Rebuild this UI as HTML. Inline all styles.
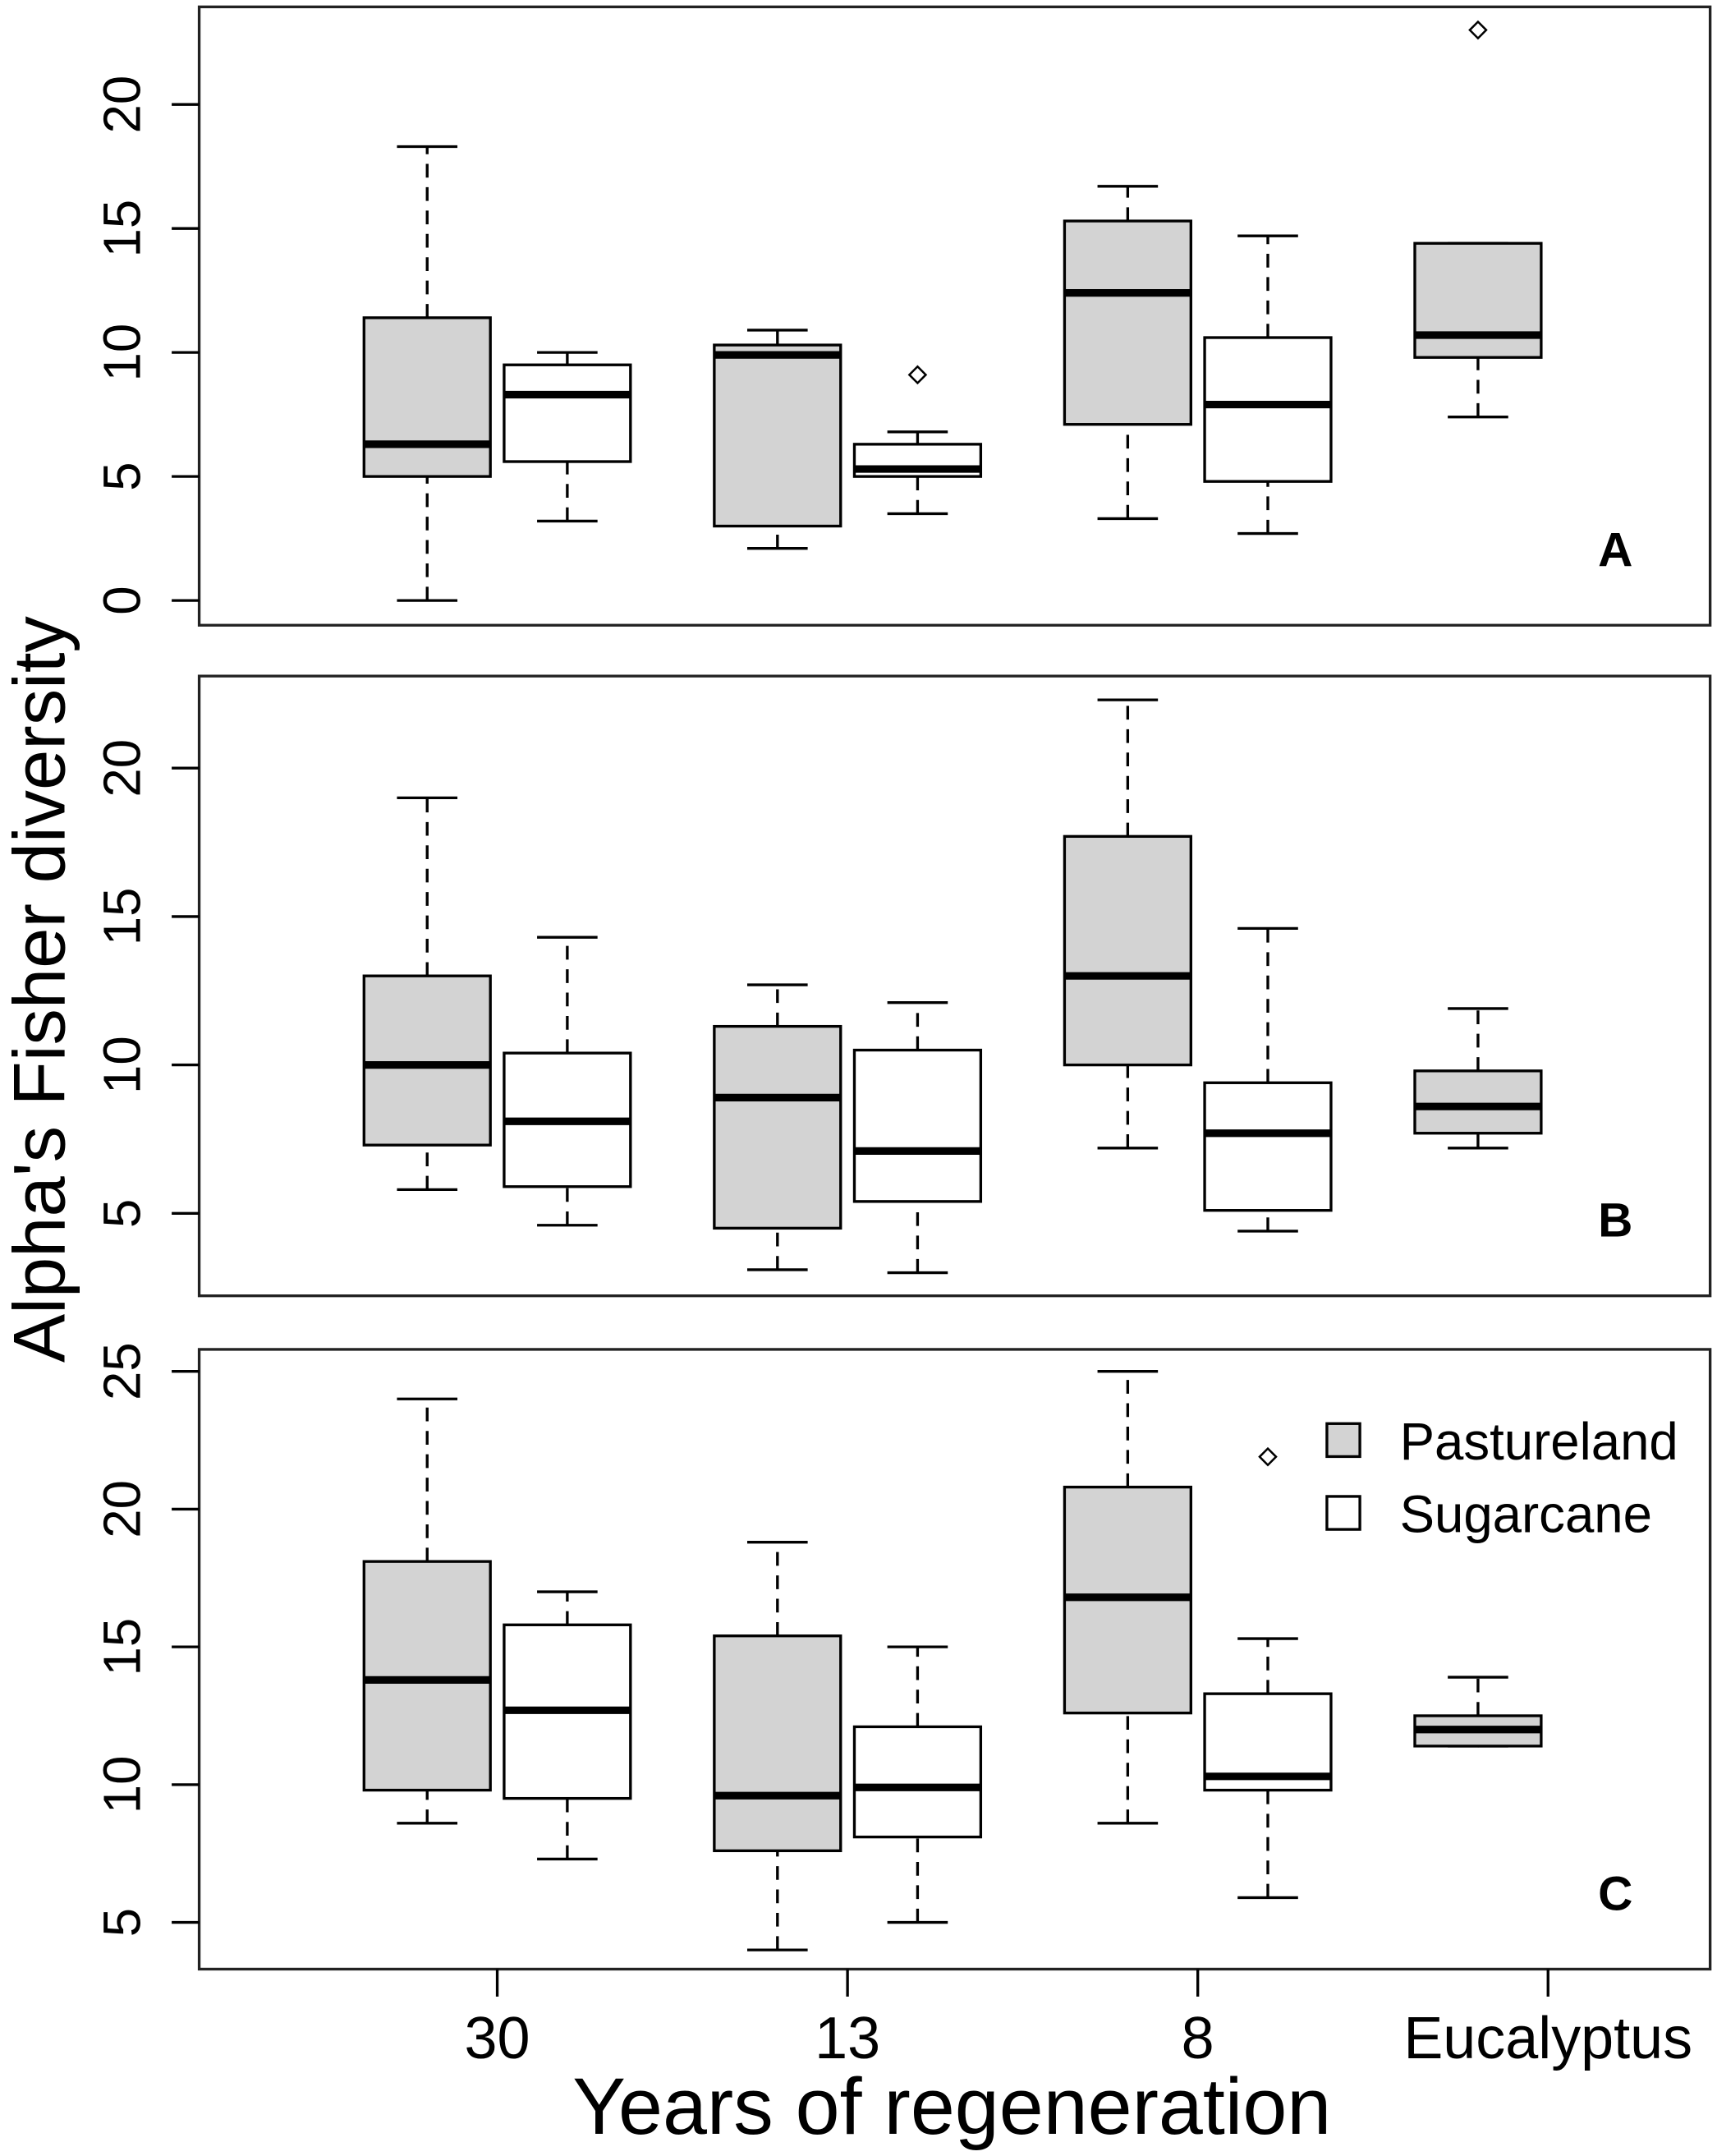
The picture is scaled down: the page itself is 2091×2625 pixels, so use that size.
<!DOCTYPE html>
<html><head><meta charset="utf-8"><style>
html,body{margin:0;padding:0;background:#fff}
svg{display:block}
text{font-family:"Liberation Sans",Arial,sans-serif;fill:#000}
</style></head><body>
<svg id="chart" width="2091" height="2625" viewBox="0 0 1250 1569" preserveAspectRatio="none" xmlns="http://www.w3.org/2000/svg"></svg>
<script>
// Group categories and positions
const categories = ["30", "13", "8", "Eucalyptus"];
const series = ["Pastureland", "Sugarcane"];
// Each box: [whiskerLow, q1, median, q3, whiskerHigh]
const panelA_P = [[0,5,6.3,11.4,18.3],[2.1,3,9.9,10.3,10.9],[3.3,7.1,12.4,15.3,16.7],[7.4,9.8,10.7,14.4,14.4]];
const panelA_S = [[3.2,5.6,8.3,9.5,10],[3.5,5,5.3,6.3,6.8],[2.7,4.8,7.9,10.6,14.7],null];
const panelA_out = [[3,0,23],[1,1,9.1]]; // [group, series, value]
const panelB_P = [[5.8,7.3,10,13,19],[3.1,4.5,8.9,11.3,12.7],[7.2,10,13,17.7,22.3],[7.2,7.7,8.6,9.8,11.9]];
const panelB_S = [[4.6,5.9,8.1,10.4,14.3],[3,5.4,7.1,10.5,12.1],[4.4,5.1,7.7,9.4,14.6],null];
const panelB_out = [];
const panelC_P = [[8.6,9.8,13.8,18.1,24],[4,7.6,9.6,15.4,18.8],[8.6,12.6,16.8,20.8,25],[11.4,11.4,12,12.5,13.9]];
const panelC_S = [[7.3,9.5,12.7,15.8,17],[5,8.1,9.9,12.1,15],[5.9,9.8,10.3,13.3,15.3],null];
const panelC_out = [[2,1,21.9]];
const ticksA = [0,5,10,15,20];
const ticksB = [5,10,15,20];
const ticksC = [5,10,15,20,25];

const NS="http://www.w3.org/2000/svg";
const svg=document.getElementById('chart');
function mk(tag,attrs,parent){const e=document.createElementNS(NS,tag);for(const k in attrs)e.setAttribute(k,attrs[k]);(parent||svg).appendChild(e);return e;}
const X0=145,X1=1245;
function xPos(g,s){return 311+255*g+102*s;}
function xTick(g){return 311+255*g+51;}

function panel(name,top,bot,v0,y0,v1,y1,ticks,P,S,outs,label){
  const g=mk('g',{});
  
  
  const y=v=>y0+(v-v0)*(y1-y0)/(v1-v0);
  const frame=mk('rect',{x:X0,y:top,width:X1-X0,height:bot-top,fill:'none',stroke:'#222','stroke-width':2},g);
  
  
  ticks.forEach(t=>{
    const tl=mk('line',{x1:X0,x2:X0-20,y1:y(t),y2:y(t),stroke:'#000','stroke-width':2},g);
    
    
    const tx=mk('text',{x:0,y:0,'font-size':38,'text-anchor':'middle',transform:`translate(102,${y(t)}) rotate(-90)`},g);
    tx.textContent=t;
    
    
  });
  [P,S].forEach((arr,si)=>{
    arr.forEach((b,gi)=>{
      if(!b)return;
      const cx=xPos(gi,si);
      const bg=mk('g',{},g);
      
      
      mk('line',{x1:cx,x2:cx,y1:y(b[0]),y2:y(b[1]),stroke:'#000','stroke-width':2,'stroke-dasharray':'10,7'},bg);
      mk('line',{x1:cx,x2:cx,y1:y(b[3]),y2:y(b[4]),stroke:'#000','stroke-width':2,'stroke-dasharray':'10,7'},bg);
      mk('line',{x1:cx-22,x2:cx+22,y1:y(b[0]),y2:y(b[0]),stroke:'#000','stroke-width':2},bg);
      mk('line',{x1:cx-22,x2:cx+22,y1:y(b[4]),y2:y(b[4]),stroke:'#000','stroke-width':2},bg);
      mk('rect',{x:cx-46,y:y(b[3]),width:92,height:y(b[1])-y(b[3]),fill:si==0?'#d3d3d3':'#fff',stroke:'#000','stroke-width':2},bg);
      mk('line',{x1:cx-46,x2:cx+46,y1:y(b[2]),y2:y(b[2]),stroke:'#000','stroke-width':5.5},bg);
    });
  });
  outs.forEach(o=>{
    const cx=xPos(o[0],o[1]),cy=y(o[2]);
    const d=mk('path',{d:`M${cx} ${cy-6}L${cx+6} ${cy}L${cx} ${cy+6}L${cx-6} ${cy}Z`,fill:'none',stroke:'#000','stroke-width':1.5},g);
    
    
  });
  const lb=mk('text',{x:1176,y:bot-43,'font-size':35,'font-weight':'bold','text-anchor':'middle'},g);
  lb.textContent=label;
  
  
  return y;
}
panel('a',5,455,0,437,20,76,ticksA,panelA_P,panelA_S,panelA_out,'A');
panel('b',492,943,5,883,20,559,ticksB,panelB_P,panelB_S,panelB_out,'B');
panel('c',982,1433,5,1399,25,998,ticksC,panelC_P,panelC_S,panelC_out,'C');

categories.forEach((c,i)=>{
  const t=mk('line',{x1:xTick(i),x2:xTick(i),y1:1433,y2:1453,stroke:'#000','stroke-width':2});
  
  
  const l=mk('text',{x:xTick(i),y:1498,'font-size':43,'text-anchor':'middle'});
  l.textContent=c;
  
  
});
</script>
<svg style="position:absolute;left:0;top:0" width="2091" height="2625" viewBox="0 0 1250 1569" preserveAspectRatio="none" xmlns="http://www.w3.org/2000/svg">
<text x="693" y="1553" font-size="58" text-anchor="middle">Years of regeneration</text>
<text transform="translate(47,720) rotate(-90)" font-size="53" text-anchor="middle">Alpha's Fisher diversity</text>
<g>
<rect x="966" y="1036" width="24" height="24" fill="#d3d3d3" stroke="#000" stroke-width="2"/>
<text x="1019" y="1062" font-size="38">Pastureland</text>
<rect x="966" y="1089" width="24" height="24" fill="#fff" stroke="#000" stroke-width="2"/>
<text x="1019" y="1115" font-size="38">Sugarcane</text>
</g>
</svg>
</body></html>
